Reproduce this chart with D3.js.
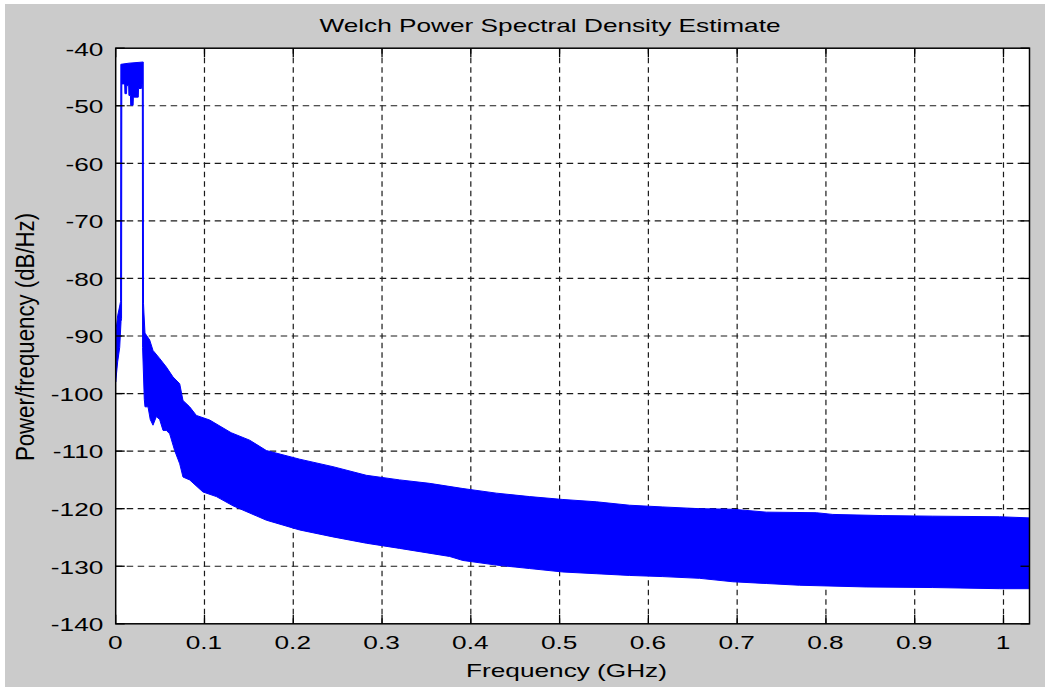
<!DOCTYPE html>
<html>
<head>
<meta charset="utf-8">
<script src="https://cdn.jsdelivr.net/npm/d3@7/dist/d3.min.js"></script>
<style>
  html, body { margin: 0; padding: 0; background: #ffffff; }
  svg { display: block; }
  text { font-family: "Liberation Sans", Arial, Helvetica, sans-serif; fill: #000; }
</style>
</head>
<body>
<svg id="chart" width="1045" height="687"></svg>
<script>
// Welch PSD estimate: upper and lower envelope of the dense periodogram trace
const upperFreqGHz = [0, 0.0022, 0.0045, 0.0055, 0.0058, 0.0150, 0.0310, 0.0313, 0.0318, 0.0330,
  0.0383, 0.0420, 0.0495, 0.0571, 0.0645, 0.0721, 0.0758, 0.0833, 0.0909, 0.1059,
  0.1300, 0.1509, 0.1697, 0.2072, 0.2447, 0.2823, 0.3198, 0.3536, 0.3911, 0.4287,
  0.4662, 0.5037, 0.5413, 0.5788, 0.6163, 0.6577, 0.6952, 0.7328, 0.7891, 0.8078,
  0.8641, 0.9204, 0.9955, 1.0293];
const upperDb = [-89.5, -86.5, -84.8, -84.0, -42.8, -42.6, -42.4, -84.3, -86.0, -89.5,
  -90.7, -92.5, -93.9, -95.4, -97.1, -98.3, -101.2, -102.3, -103.8, -104.6,
  -106.8, -108.1, -109.9, -111.4, -112.7, -114.2, -115.0, -115.6, -116.5, -117.3,
  -117.9, -118.4, -118.8, -119.4, -119.7, -120.0, -120.1, -120.6, -120.7, -121.0,
  -121.2, -121.3, -121.4, -121.6];

const lowerFreqGHz = [0, 0.0022, 0.0045, 0.0060, 0.0066, 0.0069, 0.0101, 0.0104, 0.0122, 0.0125,
  0.0146, 0.0149, 0.0166, 0.0169, 0.0196, 0.0199, 0.0254, 0.0257, 0.0289, 0.0292,
  0.0300, 0.0303, 0.0322, 0.0330, 0.0364, 0.0389, 0.0420, 0.0458, 0.0495, 0.0533,
  0.0571, 0.0608, 0.0664, 0.0721, 0.0758, 0.0833, 0.0983, 0.1134, 0.1321, 0.1697,
  0.2072, 0.2447, 0.2823, 0.3198, 0.3761, 0.3911, 0.4287, 0.4662, 0.5037, 0.5413,
  0.5788, 0.6163, 0.6577, 0.6952, 0.7328, 0.7703, 0.8453, 0.9204, 0.9955, 1.0293];
const lowerDb = [-98.0, -94.5, -92.0, -87.5, -87.0, -46.2, -46.2, -47.9, -47.9, -46.5,
  -46.5, -48.2, -48.2, -49.9, -49.9, -48.5, -48.5, -47.0, -47.0, -46.2,
  -46.2, -92.0, -101.0, -102.3, -102.3, -104.5, -105.5, -104.0, -104.5, -106.4,
  -106.4, -107.0, -109.9, -112.2, -114.5, -115.0, -117.1, -117.9, -119.5, -122.0,
  -123.7, -124.9, -126.0, -126.9, -128.3, -129.0, -129.8, -130.4, -131.0, -131.3,
  -131.6, -131.8, -132.1, -132.7, -133.0, -133.3, -133.6, -133.7, -133.9, -133.9];

const xTicks = [0, 0.1, 0.2, 0.3, 0.4, 0.5, 0.6, 0.7, 0.8, 0.9, 1];
const xTickLabels = ["0", "0.1", "0.2", "0.3", "0.4", "0.5", "0.6", "0.7", "0.8", "0.9", "1"];
const yTicks = [-140, -130, -120, -110, -100, -90, -80, -70, -60, -50, -40];
const yTickLabels = ["-140", "-130", "-120", "-110", "-100", "-90", "-80", "-70", "-60", "-50", "-40"];

const titleText = "Welch Power Spectral Density Estimate";
const xLabelText = "Frequency (GHz)";
const yLabelText = "Power/frequency (dB/Hz)";

const W = 1045, H = 687;
const plot = { left: 115.7, top: 48.2, right: 1029.5, bottom: 623.8 };
const SX = 1.38;        // horizontal glyph stretch of the figure
const FONT = 19;
const TICK = 9;

const svg = d3.select("#chart");

svg.append("rect").attr("x", 0).attr("y", 0).attr("width", W).attr("height", H).attr("fill", "#ffffff");
svg.append("rect").attr("x", 5).attr("y", 4).attr("width", W - 5).attr("height", H - 4).attr("fill", "#cbcbcb");

const x = d3.scaleLinear().domain([0, 1.0293]).range([plot.left, plot.right]);
const y = d3.scaleLinear().domain([-140, -40]).range([plot.bottom, plot.top]);

svg.append("rect")
  .attr("x", plot.left).attr("y", plot.top)
  .attr("width", plot.right - plot.left).attr("height", plot.bottom - plot.top)
  .attr("fill", "#ffffff");

svg.append("defs").append("clipPath").attr("id", "plotClip")
  .append("rect")
  .attr("x", plot.left).attr("y", plot.top)
  .attr("width", plot.right - plot.left).attr("height", plot.bottom - plot.top);

// dashed grid
const grid = svg.append("g").attr("stroke", "#1a1a1a").attr("stroke-width", 1.2).attr("fill", "none");
grid.selectAll("line.gx").data(xTicks.filter(d => x(d) > plot.left + 1 && x(d) < plot.right - 1))
  .join("line").attr("class", "gx")
  .attr("x1", d => x(d)).attr("x2", d => x(d))
  .attr("y1", plot.bottom).attr("y2", plot.top)
  .attr("stroke-dasharray", "5.5,4");
grid.selectAll("line.gy").data(yTicks.filter(d => y(d) < plot.bottom - 1 && y(d) > plot.top + 1))
  .join("line").attr("class", "gy")
  .attr("x1", plot.left).attr("x2", plot.right)
  .attr("y1", d => y(d)).attr("y2", d => y(d))
  .attr("stroke-dasharray", "6.5,4.5");

// PSD trace band
const line = d3.line().x(d => x(d[0])).y(d => y(d[1]));
const upperPts = d3.zip(upperFreqGHz, upperDb);
const lowerPts = d3.zip(lowerFreqGHz, lowerDb).reverse();
svg.append("path")
  .attr("clip-path", "url(#plotClip)")
  .attr("d", line(upperPts.concat(lowerPts)) + "Z")
  .attr("fill", "#0000ff")
  .attr("stroke", "#0000ff")
  .attr("stroke-width", 1)
  .attr("stroke-linejoin", "miter");

// inward tick marks on all four sides
const ticks = svg.append("g").attr("stroke", "#000").attr("stroke-width", 1.3);
xTicks.forEach(v => {
  ticks.append("line").attr("x1", x(v)).attr("x2", x(v)).attr("y1", plot.bottom).attr("y2", plot.bottom - TICK);
  ticks.append("line").attr("x1", x(v)).attr("x2", x(v)).attr("y1", plot.top).attr("y2", plot.top + TICK);
});
yTicks.forEach(v => {
  ticks.append("line").attr("x1", plot.left).attr("x2", plot.left + TICK).attr("y1", y(v)).attr("y2", y(v));
  ticks.append("line").attr("x1", plot.right).attr("x2", plot.right - TICK).attr("y1", y(v)).attr("y2", y(v));
});

// axes box
svg.append("rect")
  .attr("x", plot.left).attr("y", plot.top)
  .attr("width", plot.right - plot.left).attr("height", plot.bottom - plot.top)
  .attr("fill", "none").attr("stroke", "#000").attr("stroke-width", 1.5);

// tick labels through d3 axes
const xAxis = d3.axisBottom(x).tickValues(xTicks).tickFormat((d, i) => xTickLabels[i]).tickSize(0).tickPadding(0);
const gx = svg.append("g").attr("transform", `translate(0,${plot.bottom})`).call(xAxis);
gx.select(".domain").remove();
gx.selectAll("text")
  .attr("y", null).attr("dy", null)
  .attr("font-size", FONT).attr("font-family", null).attr("fill", "#000")
  .attr("transform", `translate(-1,24.7) scale(${SX},1)`);

const yAxis = d3.axisLeft(y).tickValues(yTicks).tickFormat((d, i) => yTickLabels[i]).tickSize(0).tickPadding(0);
const gy = svg.append("g").attr("transform", `translate(${plot.left},0)`).call(yAxis);
gy.select(".domain").remove();
gy.selectAll("text")
  .attr("x", null).attr("dy", null)
  .attr("font-size", FONT).attr("font-family", null).attr("fill", "#000")
  .attr("transform", `translate(-12.4,6.8) scale(${SX},1)`);

// title and axis labels
svg.append("text")
  .attr("transform", `translate(550,31.5) scale(${SX},1)`)
  .attr("text-anchor", "middle").attr("font-size", FONT)
  .text(titleText);

svg.append("text")
  .attr("transform", `translate(566.5,677) scale(${SX},1)`)
  .attr("text-anchor", "middle").attr("font-size", FONT)
  .text(xLabelText);

svg.append("text")
  .attr("transform", `translate(34,337) scale(${SX},1.17) rotate(-90)`)
  .attr("text-anchor", "middle").attr("font-size", FONT)
  .text(yLabelText);
</script>
</body>
</html>
